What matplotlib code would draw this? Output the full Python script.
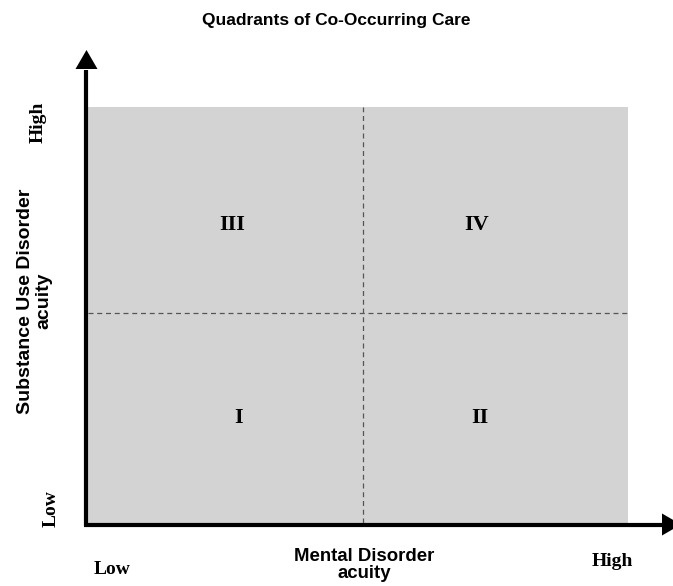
import matplotlib
matplotlib.use("Agg")
import matplotlib.pyplot as plt

quadrant_labels = ["I", "II", "III", "IV"]
quadrant_x = [0.556, 1.452, 0.533, 1.44]
quadrant_y = [0.505, 0.505, 1.433, 1.433]
divider_x = 1.02
divider_y = 1.01
x_limits = [0, 2]
y_limits = [0, 2]

W, H = 673, 586
AX_L, AX_B, AX_W, AX_H = 88, 523, 540, 416  # pixel geometry of the plot area

fig = plt.figure(figsize=(W / 100, H / 100), dpi=100)
ax = fig.add_axes([AX_L / W, (H - AX_B) / H, AX_W / W, AX_H / H])
ax.set_xlim(x_limits)
ax.set_ylim(y_limits)
ax.set_facecolor("#d3d3d3")
for s in ax.spines.values():
    s.set_visible(False)
ax.set_xticks([])
ax.set_yticks([])

ax.axvline(divider_x, color="#555555", lw=0.9, ls=(0, (4, 3)))
ax.axhline(divider_y, color="#555555", lw=0.9, ls=(0, (4, 3)))

serif = ["Liberation Serif", "DejaVu Serif"]
sans = ["Liberation Sans", "DejaVu Sans"]
for lab, x, y in zip(quadrant_labels, quadrant_x, quadrant_y):
    ax.text(x, y, lab, ha="center", va="center", fontsize=16, fontweight="bold", family=serif)


def ax_pt(px, py):
    return (px - AX_L) / AX_W, (AX_B - py) / AX_H


tr = ax.transAxes
# vertical axis line + head
x0, y0 = ax_pt(86, 526)
x1, y1 = ax_pt(86, 70)
ax.plot([x0, x1], [y0, y1], color="black", lw=3, transform=tr, clip_on=False, solid_capstyle="butt")
hx = [ax_pt(75.5, 69)[0], ax_pt(86.5, 50)[0], ax_pt(97.5, 69)[0]]
hy = [ax_pt(75.5, 69)[1], ax_pt(86.5, 50)[1], ax_pt(97.5, 69)[1]]
ax.fill(hx, hy, color="black", transform=tr, clip_on=False, lw=0)
# horizontal axis line + head
x0, y0 = ax_pt(84, 524.5)
x1, y1 = ax_pt(663, 524.5)
ax.plot([x0, x1], [y0, y1], color="black", lw=3, transform=tr, clip_on=False, solid_capstyle="butt")
hx = [ax_pt(662, 513.5)[0], ax_pt(681, 524.5)[0], ax_pt(662, 535.5)[0]]
hy = [ax_pt(662, 513.5)[1], ax_pt(681, 524.5)[1], ax_pt(662, 535.5)[1]]
ax.fill(hx, hy, color="black", transform=tr, clip_on=False, lw=0)


def fpos(px, py):
    return px / W, 1 - py / H


fig.text(*fpos(336, 20), "Quadrants of Co-Occurring Care", ha="center", va="center",
         fontsize=12.5, fontweight="bold", family=sans)
fig.text(*fpos(364, 565), "Mental Disorder\nacuity", ha="center", va="center",
         fontsize=13.4, fontweight="bold", family=sans, linespacing=0.95)
fig.text(*fpos(35, 301), "Substance Use Disorder\nacuity", ha="center", va="center",
         rotation=90, fontsize=14, fontweight="bold", family=sans, linespacing=1.1)
fig.text(*fpos(38, 122), "High", ha="center", va="center", rotation=90,
         fontsize=14, fontweight="bold", family=serif)
fig.text(*fpos(51, 509), "Low", ha="center", va="center", rotation=90,
         fontsize=14, fontweight="bold", family=serif)
fig.text(*fpos(112, 569), "Low", ha="center", va="center",
         fontsize=14, fontweight="bold", family=serif)
fig.text(*fpos(612, 562), "High", ha="center", va="center",
         fontsize=14, fontweight="bold", family=serif)

fig.savefig("out.png", dpi=100)
